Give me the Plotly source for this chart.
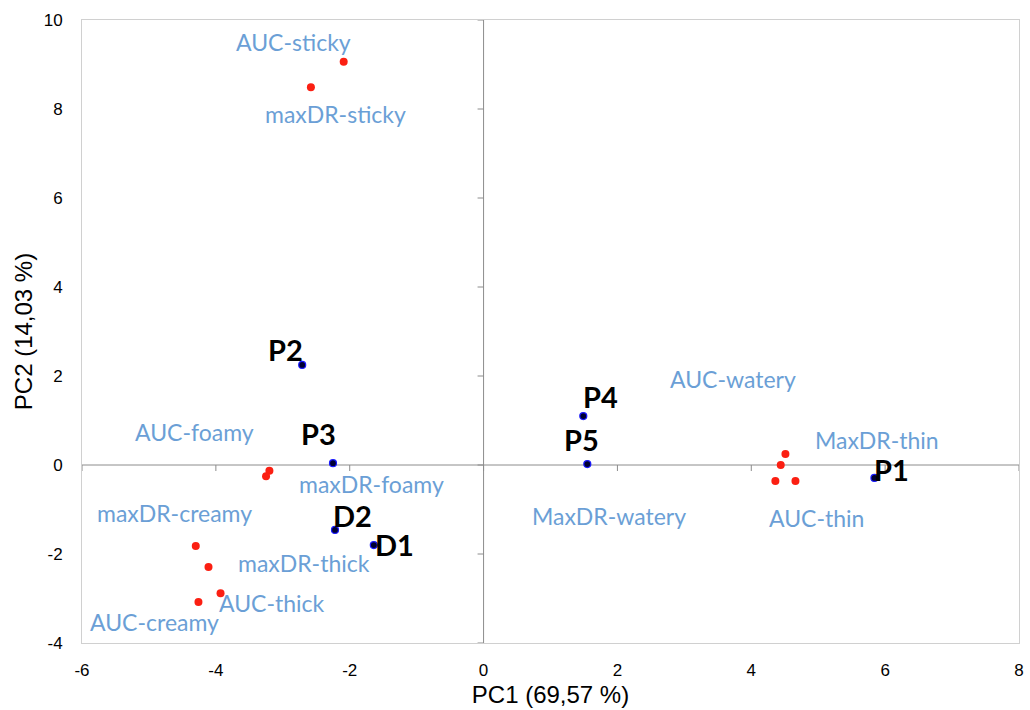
import plotly.graph_objects as go

# Variable loadings (red points)
var_names = ["AUC-sticky", "maxDR-sticky", "maxDR-foamy", "AUC-foamy",
             "maxDR-creamy", "maxDR-thick", "AUC-thick", "AUC-creamy",
             "AUC-watery", "AUC-thin", "MaxDR-watery", "MaxDR-thin"]
var_pc1 = [-2.09, -2.58, -3.20, -3.25, -4.30, -4.11, -3.93, -4.26, 4.51, 4.44, 4.36, 4.66]
var_pc2 = [9.06, 8.49, -0.13, -0.25, -1.82, -2.29, -2.88, -3.08, 0.25, 0.00, -0.36, -0.36]

# Product scores (dark points)
prod_names = ["P2", "P3", "D2", "D1", "P4", "P5", "P1"]
prod_pc1 = [-2.71, -2.25, -2.22, -1.64, 1.49, 1.55, 5.84]
prod_pc2 = [2.25, 0.04, -1.46, -1.80, 1.10, 0.02, -0.29]

x_ticks = [-6, -4, -2, 0, 2, 4, 6, 8]
y_ticks = [-4, -2, 0, 2, 4, 6, 8, 10]

# label pixel offsets (style)
var_off = [(-50, -20), (25, 27), (102, 13), (-72, -44),
           (-21, -33), (96, -4), (51, 10), (-44, 20),
           (-52, -75), (36, 53), (-166, 35), (82, -41)]
prod_off = [(-17, -15), (-14, -30), (18, -14), (21, -1), (17, -20), (-6, -25), (17, -8)]

BLUE_TXT = "#6b9fd6"

fig = go.Figure()
fig.add_trace(go.Scatter(x=var_pc1, y=var_pc2, mode="markers",
                         marker=dict(color="#fb1f12", size=8, line=dict(width=0)),
                         hoverinfo="text", text=var_names, showlegend=False))
fig.add_trace(go.Scatter(x=prod_pc1, y=prod_pc2, mode="markers",
                         marker=dict(color="#000033", size=7, line=dict(color="#1a1aff", width=1.2)),
                         hoverinfo="text", text=prod_names, showlegend=False))

annotations = []
for n, x, y, (dx, dy) in zip(var_names, var_pc1, var_pc2, var_off):
    annotations.append(dict(x=x, y=y, text=n, showarrow=False, xshift=dx, yshift=-dy,
                            xanchor="center", yanchor="middle",
                            font=dict(family="Lato, Open Sans, sans-serif", size=23, color=BLUE_TXT)))
for n, x, y, (dx, dy) in zip(prod_names, prod_pc1, prod_pc2, prod_off):
    annotations.append(dict(x=x, y=y, text="<b>%s</b>" % n, showarrow=False, xshift=dx, yshift=-dy,
                            xanchor="center", yanchor="middle",
                            font=dict(family="Lato, Open Sans, sans-serif", size=29, color="#000000")))

shapes = []
# zero axes
shapes.append(dict(type="line", xref="x", yref="paper", x0=0, x1=0, y0=0, y1=1,
                   line=dict(color="#8c8c8c", width=1), layer="below"))
shapes.append(dict(type="line", xref="paper", yref="y", x0=0, x1=1, y0=0, y1=0,
                   line=dict(color="#8c8c8c", width=1), layer="below"))
# tick marks on zero axes
for yt in y_ticks:
    shapes.append(dict(type="line", xref="x", yref="y", xsizemode="pixel", xanchor=0,
                       x0=-6, x1=0, y0=yt, y1=yt, line=dict(color="#8c8c8c", width=1), layer="below"))
for xt in x_ticks:
    shapes.append(dict(type="line", xref="x", yref="y", ysizemode="pixel", yanchor=0,
                       x0=xt, x1=xt, y0=0, y1=-6, line=dict(color="#8c8c8c", width=1), layer="below"))

axis_font = dict(family="Liberation Sans, Arial, sans-serif", size=17, color="#000000")
title_font = dict(family="Liberation Sans, Arial, sans-serif", size=24, color="#000000")

fig.update_layout(
    width=1030, height=710,
    margin=dict(l=82, r=6, t=20, b=67),
    paper_bgcolor="white", plot_bgcolor="white",
    annotations=annotations, shapes=shapes,
    xaxis=dict(range=[-6, 8], tickvals=x_ticks, ticktext=[str(v) for v in x_ticks],
               showgrid=False, zeroline=False, showline=True, linecolor="#d0d0d0", linewidth=1,
               mirror=True, ticks="", tickfont=axis_font, ticklabelstandoff=12,
               title=dict(text="PC1 (69,57 %)", font=title_font, standoff=6)),
    yaxis=dict(range=[-4, 10], tickvals=y_ticks, ticktext=[str(v) for v in y_ticks],
               showgrid=False, zeroline=False, showline=True, linecolor="#d0d0d0", linewidth=1,
               mirror=True, ticks="", tickfont=axis_font, ticklabelstandoff=15,
               title=dict(text="PC2 (14,03 %)", font=title_font, standoff=4)),
)

fig.write_html("out.html")
